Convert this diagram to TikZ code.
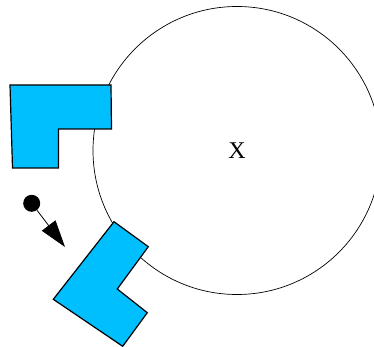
\documentclass[tikz,border=0pt]{standalone}
\usepackage{fontspec}
\setmainfont{Liberation Serif}
\definecolor{skyblue}{HTML}{00BFFF}
\usetikzlibrary{arrows.meta}

\begin{document}
\begin{tikzpicture}[x=1pt,y=-1pt,
  block/.style={fill=skyblue,draw=black,line width=1.2pt,line join=miter},
  ring/.style={circle,draw=black,line width=0.7pt,minimum size=288pt,inner sep=0pt,
    font=\fontsize{24}{24}\selectfont}]
  \useasboundingbox (0,0) rectangle (374,347);

  % Large circle
  \node[ring] (site) at (237,150.5) {X};

  % Upper block
  \draw[block] (10,85) -- (111,85) -- (111.5,129) -- (58.5,129)
    -- (58.5,168) -- (12.5,168) -- cycle;

  % Lower block (tilted)
  \draw[block] (114,221.7) -- (148.3,246.7) -- (117.3,289) -- (147.3,312.7)
    -- (122.7,346.3) -- (53.3,299.3) -- cycle;

  % Dot with arrow
  \node[circle,fill=black,minimum size=17pt,inner sep=0pt] (dot) at (31.7,203.3) {};
  \coordinate (tip) at (65,247);
  \draw[line width=0.8pt,-{Triangle[length=27pt,width=17pt]}] (dot) -- (tip);
\end{tikzpicture}
\end{document}
